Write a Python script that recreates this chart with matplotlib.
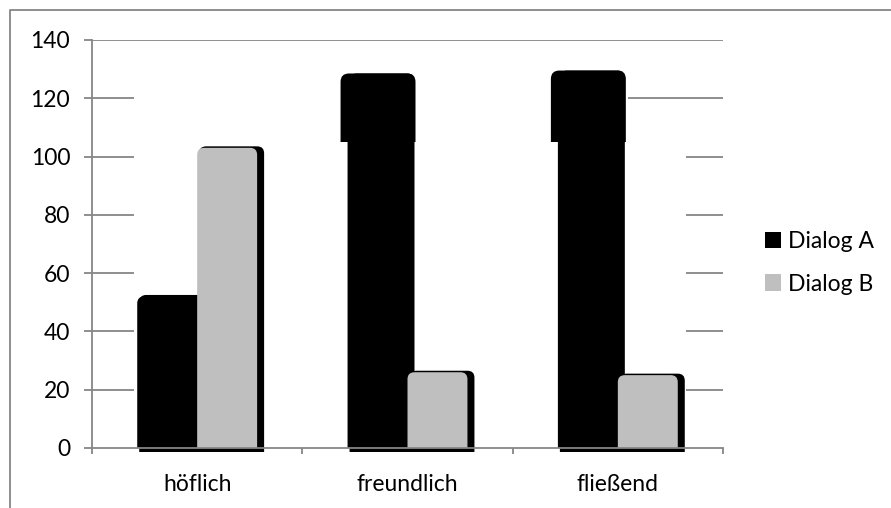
import matplotlib
matplotlib.use("Agg")
import matplotlib.pyplot as plt
from matplotlib.path import Path
from matplotlib.patches import PathPatch, Patch
from matplotlib.lines import Line2D

plt.rcParams['font.family'] = ['Lato', 'DejaVu Sans']

# chart data
categories = ["höflich", "freundlich", "fließend"]
series_names = ["Dialog A", "Dialog B"]
dialog_a = [52, 128, 129]
dialog_b = [103, 26, 25]
y_ticks = [0, 20, 40, 60, 80, 100, 120, 140]

color_a = "black"
color_b = "#bfbfbf"
axis_gray = "#868686"
font_size = 16.5

W, H = 891, 508
fig = plt.figure(figsize=(W / 100, H / 100), dpi=100)
ax = fig.add_axes([92 / W, 1 - 448 / H, (723 - 92) / W, (448 - 40) / H])
ax.set_xlim(-0.5, len(categories) - 0.5)
ax.set_ylim(0, 140)

# pixel -> data unit helpers
px_x = (len(categories)) / (723 - 92)
px_y = 140 / (448 - 40)

bar_w = 0.285
rx, ry = 7 * px_x, 7 * px_y
cap_level = 105  # where the odd wide cap on the tall bars stops


def top_rounded(x0, x1, y0, y1, rx, ry):
    verts = [(x0, y0), (x0, y1 - ry), (x0, y1), (x0 + rx, y1),
             (x1 - rx, y1), (x1, y1), (x1, y1 - ry), (x1, y0), (x0, y0)]
    codes = [Path.MOVETO, Path.LINETO, Path.CURVE3, Path.CURVE3,
             Path.LINETO, Path.CURVE3, Path.CURVE3, Path.LINETO, Path.CLOSEPOLY]
    return Path(verts, codes)


def draw_bar(x0, x1, val, color, z):
    # black drop shadow, shifted right and a bit below the axis
    sh = top_rounded(x0 + 2 * px_x, x1 + 7 * px_x, -4 * px_y, val + 1.5 * px_y, rx, ry)
    ax.add_patch(PathPatch(sh, facecolor="black", edgecolor="none", zorder=z, clip_on=False))
    body = top_rounded(x0, x1, 0, val, rx, ry)
    ax.add_patch(PathPatch(body, facecolor=color, edgecolor="none", zorder=z + 0.1))


for i, (a, b) in enumerate(zip(dialog_a, dialog_b)):
    draw_bar(i - bar_w, i, a, color_a, 2)
    draw_bar(i, i + bar_w, b, color_b, 2.5)
    if a > cap_level:
        cap = top_rounded(i - bar_w - 7 * px_x, i + 8 * px_x, cap_level, a + 1.5 * px_y,
                          1.2 * rx, 1.2 * ry)
        ax.add_patch(PathPatch(cap, facecolor="black", edgecolor="none", zorder=3))

# gridlines, only partly visible as in the original
left_end = -bar_w - 3 * px_x
right_start = len(categories) - 1 + bar_w + 8 * px_x
cap_right = len(categories) - 1 + 10 * px_x
for yv in y_ticks[1:]:
    if yv == y_ticks[-1]:
        ax.hlines(yv, -0.5, len(categories) - 0.5, color=axis_gray, lw=1.3, zorder=1)
        continue
    ax.hlines(yv, -0.5, left_end, color=axis_gray, lw=1.3, zorder=1)
    start = right_start if yv < cap_level else cap_right
    ax.hlines(yv, start, len(categories) - 0.5, color=axis_gray, lw=1.3, zorder=1)

# axes styling
for s in ["top", "right"]:
    ax.spines[s].set_visible(False)
for s in ["left", "bottom"]:
    ax.spines[s].set_color(axis_gray)
    ax.spines[s].set_linewidth(1.3)
    ax.spines[s].set_zorder(5)

ax.set_yticks(y_ticks)
ax.tick_params(axis="y", direction="out", length=8 * 0.72, width=1.3, color=axis_gray,
               labelsize=font_size, pad=10)
ax.set_xticks(range(len(categories)))
ax.set_xticklabels(categories)
ax.set_xticks([k - 0.5 for k in range(len(categories) + 1)], minor=True)
ax.tick_params(axis="x", which="major", length=0, labelsize=font_size, pad=19)
ax.tick_params(axis="x", which="minor", direction="out", length=6 * 0.72, width=1.3,
               color=axis_gray)

# legend
handles = [Patch(facecolor=color_a, edgecolor="none"), Patch(facecolor=color_b, edgecolor="none")]
fig.legend(handles, series_names, loc="center left", bbox_to_anchor=(765 / W, 1 - 263 / H),
           frameon=False, fontsize=font_size, handlelength=0.7, handleheight=0.7,
           handletextpad=0.3, labelspacing=0.92, borderpad=0, borderaxespad=0)

# outer chart border (cropped at right and bottom)
fig.add_artist(Line2D([10 / W, 10 / W, 1], [0, 1 - 10 / H, 1 - 10 / H],
                      color=axis_gray, lw=1.3, transform=fig.transFigure))

fig.savefig("out.png", dpi=100)
